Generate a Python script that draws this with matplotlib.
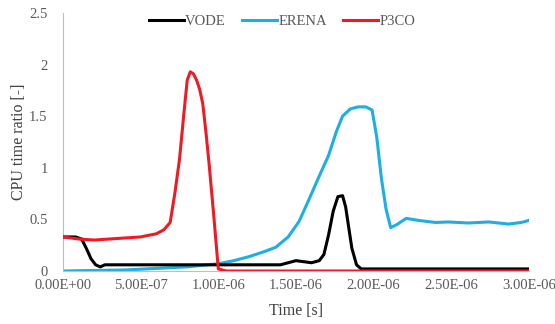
import matplotlib
matplotlib.use("Agg")
import matplotlib.pyplot as plt
from matplotlib.ticker import FuncFormatter, MultipleLocator

# Data (time in microseconds, multiplied by 1e-6 below)
vode_t = [0.0, 0.08, 0.12, 0.15, 0.18, 0.21, 0.24, 0.27, 0.4, 0.6, 0.8, 1.0, 1.2, 1.4, 1.45, 1.5, 1.55, 1.6, 1.65, 1.68, 1.71, 1.74, 1.77, 1.8, 1.82, 1.84, 1.86, 1.89, 1.92, 2.0, 2.2, 2.5, 2.8, 3.0]
vode_v = [0.33, 0.33, 0.31, 0.22, 0.12, 0.06, 0.04, 0.06, 0.06, 0.06, 0.06, 0.06, 0.06, 0.06, 0.08, 0.10, 0.09, 0.08, 0.10, 0.16, 0.35, 0.58, 0.72, 0.73, 0.62, 0.42, 0.22, 0.06, 0.02, 0.02, 0.02, 0.02, 0.02, 0.02]

erena_t = [0.0, 0.4, 0.8, 1.0, 1.1, 1.2, 1.3, 1.37, 1.45, 1.52, 1.58, 1.65, 1.71, 1.76, 1.8, 1.85, 1.9, 1.95, 1.99, 2.02, 2.05, 2.08, 2.11, 2.15, 2.21, 2.29, 2.4, 2.48, 2.61, 2.74, 2.87, 2.95, 3.0]
erena_v = [0.0, 0.01, 0.04, 0.07, 0.10, 0.14, 0.19, 0.23, 0.33, 0.48, 0.68, 0.92, 1.12, 1.35, 1.50, 1.57, 1.59, 1.59, 1.56, 1.30, 0.90, 0.60, 0.42, 0.45, 0.51, 0.49, 0.47, 0.475, 0.465, 0.475, 0.455, 0.47, 0.49]

p3co_t = [0.0, 0.1, 0.2, 0.3, 0.4, 0.5, 0.6, 0.65, 0.69, 0.72, 0.75, 0.78, 0.8, 0.82, 0.84, 0.86, 0.88, 0.9, 0.92, 0.94, 0.97, 1.0, 1.05, 1.5, 2.0, 2.5, 3.0]
p3co_v = [0.33, 0.31, 0.30, 0.31, 0.32, 0.33, 0.36, 0.40, 0.47, 0.75, 1.08, 1.55, 1.85, 1.93, 1.91, 1.85, 1.76, 1.62, 1.35, 1.05, 0.55, 0.02, 0.0, 0.0, 0.0, 0.0, 0.0]

x_ticks = [0.0, 0.5e-6, 1.0e-6, 1.5e-6, 2.0e-6, 2.5e-6, 3.0e-6]

plt.rcParams['font.family'] = ['Liberation Serif', 'DejaVu Serif']

fig = plt.figure(figsize=(5.55, 3.24), dpi=100)
ax = fig.add_axes([0.1135, 0.1636, 0.8395, 0.7964])

lw = 2.2
ax.plot([t * 1e-6 for t in vode_t], vode_v, color='#000000', lw=lw, label='VODE', zorder=3, solid_joinstyle='round')
ax.plot([t * 1e-6 for t in erena_t], erena_v, color='#1CAEE4', lw=lw, label='ERENA', zorder=2, solid_joinstyle='round')
ax.plot([t * 1e-6 for t in p3co_t], p3co_v, color='#ED1C24', lw=lw, label='P3CO', zorder=4, solid_joinstyle='round')

ax.set_xlim(0, 3e-6)
ax.set_ylim(0, 2.5)
ax.set_xticks(x_ticks)
ax.xaxis.set_major_formatter(FuncFormatter(lambda v, p: f"{v:.2E}"))
ax.yaxis.set_major_locator(MultipleLocator(0.5))
ax.yaxis.set_major_formatter(FuncFormatter(lambda v, p: f"{v:g}"))

for s in ['top', 'right']:
    ax.spines[s].set_visible(False)
ax.spines['left'].set_color('#BFBFBF')
ax.spines['bottom'].set_color('#BFBFBF')
ax.tick_params(length=0, labelsize=10.5, colors='#595959')
ax.tick_params(axis='x', pad=6)
ax.tick_params(axis='y', pad=11)

ax.set_xlabel('Time [s]', fontsize=11.5, color='#404040', labelpad=8)
ax.set_ylabel('CPU time ratio [-]', fontsize=11.5, color='#404040', labelpad=1.5)

leg = ax.legend(loc='upper center', ncol=3, frameon=False, fontsize=10.5,
                bbox_to_anchor=(0.47, 1.045), handlelength=2.4, columnspacing=1.1, handletextpad=0.1)
for t in leg.get_texts():
    t.set_color('#595959')

fig.savefig('out.png', dpi=100)
